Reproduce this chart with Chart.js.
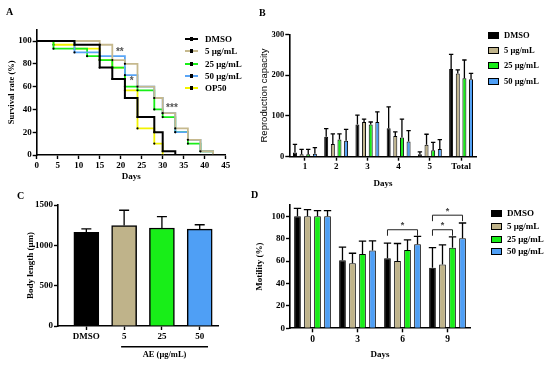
<!DOCTYPE html>
<html>
<head>
<meta charset="utf-8">
<script src="https://cdn.jsdelivr.net/npm/chart.js@4.4.1/dist/chart.umd.min.js"></script>
<style>
body { margin: 0; width: 550px; height: 365px; background: #fff; position: relative; overflow: hidden; font-family: 'Liberation Serif', serif; }
canvas { position: absolute; left: 0; top: 0; }
.panel { position: absolute; font-weight: bold; font-size: 10px; line-height: 10px; }
.legA, .legBox { position: absolute; font-weight: bold; white-space: nowrap; }
.legA { font-size: 9px; height: 12px; line-height: 12px; padding-left: 20px; }
.legA .ln { position: absolute; left: 0; top: 5px; width: 13px; height: 2px; }
.legA .ln i { position: absolute; left: 5px; top: -1px; width: 3px; height: 4px; background: #000; }
.legBox .sq { position: absolute; left: 0; top: 3px; width: 9px; height: 5px; border: 1px solid #000; }
</style>
</head>
<body>
<canvas id="chartA" width="550" height="365"></canvas>
<canvas id="chartB" width="550" height="365"></canvas>
<canvas id="chartC" width="550" height="365"></canvas>
<canvas id="chartD" width="550" height="365"></canvas>

<div class="panel" style="left:6px;top:7px">A</div>
<div class="panel" style="left:259px;top:8px">B</div>
<div class="panel" style="left:17px;top:191px">C</div>
<div class="panel" style="left:251px;top:190px">D</div>
<div id="legends"></div>

<script>
const groups = ['DMSO', '5 μg/mL', '25 μg/mL', '50 μg/mL'];
const groupColors = ['#000000', '#bfb38a', '#18ee18', '#4f9ff5'];

// A - survival curves (day of each step, survival % after the step)
const survNames = ['DMSO', '5 μg/mL', '25 μg/mL', '50 μg/mL', 'OP50'];
const survColors = ['#000000', '#c6b98e', '#18ee18', '#5aa5f5', '#f2f200'];
const dmsoDays = [0, 9, 15, 18, 21, 24, 28, 30, 33];
const dmsoSurv = [100, 96.7, 76.7, 66.7, 50, 33.3, 20, 3.3, 0];
const ae5Days = [0, 15, 18, 21, 24, 28, 30, 33, 36, 39, 42];
const ae5Surv = [100, 96.7, 83.3, 80, 60, 50, 36.7, 23.3, 13.3, 3.3, 0];
const ae25Days = [0, 4, 12, 15, 18, 21, 24, 28, 30, 33, 36, 39, 42];
const ae25Surv = [100, 93.3, 86.7, 83.3, 76.7, 60, 56.7, 40, 33.3, 20, 10, 3.3, 0];
const ae50Days = [0, 9, 15, 21, 24, 28, 30, 33, 36, 39, 42];
const ae50Surv = [100, 90, 86.7, 70, 60, 50, 36.7, 20, 13.3, 3.3, 0];
const op50Days = [0, 4, 9, 15, 18, 21, 24, 28, 30];
const op50Surv = [100, 96.7, 93.3, 83.3, 76.7, 56.7, 23.3, 10, 0];
const survTicks = [0, 20, 40, 60, 80, 100];
const survStars = [
    { text: '**', day: 19.8, pct: 90.4 },
    { text: '*', day: 22.6, pct: 64.9 },
    { text: '***', day: 32.2, pct: 41.2 }
];

// B - reproduction capacity
const reproLabels = ['1', '2', '3', '4', '5', 'Total'];
const reproDMSO = [10, 49, 79, 70, 6, 215];
const reproDMSOsd = [20, 20, 23, 52, 6, 36];
const repro5 = [6, 31, 85, 51, 29, 204];
const repro5sd = [12, 25, 7, 10, 26, 9];
const repro25 = [6, 42, 79, 47, 16, 192];
const repro25sd = [12, 14, 6, 45, 19, 45];
const repro50 = [7, 39, 85, 37, 19, 190];
const repro50sd = [15, 28, 25, 27, 23, 14];

// C - body length
const bodyLabels = ['DMSO', '5', '25', '50'];
const bodyLen = [1160, 1245, 1215, 1200];
const bodyLenSd = [45, 190, 140, 55];

// D - motility
const motDays = ['0', '3', '6', '9'];
const motDMSO = [100, 60.7, 62.5, 54];
const motDMSOsd = [7, 11.7, 13.5, 18];
const mot5 = [100, 58, 60, 57];
const mot5sd = [6, 9, 15.7, 17.5];
const mot25 = [100, 66.4, 70, 72];
const mot25sd = [5, 11.4, 9, 9.7];
const mot50 = [100, 69.4, 75, 80.5];
const mot50sd = [5, 8.6, 7, 13.5];
const motTicks = [0, 20, 40, 60, 80, 100];
const motSig = [
    { day: 2, from: 0, to: 3, level: 88 },
    { day: 3, from: 0, to: 2, level: 88 },
    { day: 3, from: 0, to: 3, level: 101 }
];

const serif = "'Liberation Serif', serif";

function axis(extra) {
    const base = {
        border: { color: '#000', width: 1.6 },
        grid: { display: true, drawOnChartArea: false, drawTicks: true, tickLength: 4, tickWidth: 1.4, tickColor: '#000' },
        ticks: { color: '#000', padding: 1, font: { family: serif, weight: 'bold', size: 9 } },
        title: { display: false }
    };
    return Object.assign(base, extra);
}

function axisTitle(text, size, family, weight) {
    return { display: true, text: text, color: '#000', padding: 0,
        font: { family: family || serif, weight: weight || 'bold', size: size || 9 } };
}

const errorBars = {
    id: 'errorBars',
    afterDatasetsDraw(chart) {
        const ctx = chart.ctx;
        const y = chart.scales.y;
        chart.data.datasets.forEach((ds, i) => {
            if (!ds.errors) return;
            const meta = chart.getDatasetMeta(i);
            meta.data.forEach((bar, j) => {
                const d = ds.data[j];
                const v = typeof d === 'object' ? d.y : d;
                const top = y.getPixelForValue(v + ds.errors[j]);
                const cap = Math.min(bar.width * 0.55, 5);
                ctx.save();
                ctx.strokeStyle = '#000';
                ctx.lineWidth = 1.3;
                ctx.beginPath();
                ctx.moveTo(bar.x, bar.y);
                ctx.lineTo(bar.x, top);
                ctx.moveTo(bar.x - cap, top);
                ctx.lineTo(bar.x + cap, top);
                ctx.stroke();
                ctx.restore();
            });
        });
    }
};

const common = { responsive: false, animation: false, devicePixelRatio: 1,
    plugins: { legend: { display: false }, tooltip: { enabled: false } } };

// ---------- A ----------
const survDays = [dmsoDays, ae5Days, ae25Days, ae50Days, op50Days];
const survVals = [dmsoSurv, ae5Surv, ae25Surv, ae50Surv, op50Surv];
const survOrder = [0, 1, 3, 2, 4];

new Chart(document.getElementById('chartA'), {
    type: 'line',
    data: {
        datasets: survNames.map((name, i) => ({
            label: name,
            data: survDays[i].map((d, k) => ({ x: d, y: survVals[i][k] })),
            stepped: true,
            borderColor: survColors[i],
            borderWidth: i === 0 ? 2 : 1.8,
            pointRadius: 1.1,
            pointBackgroundColor: '#000',
            pointBorderWidth: 0,
            order: survOrder[i]
        }))
    },
    options: Object.assign({}, common, {
        layout: { padding: { top: 29.6, right: 324.3, left: 6.7, bottom: 183 } },
        scales: {
            x: axis({ type: 'linear', min: 0, max: 45,
                ticks: { stepSize: 5, color: '#000', padding: 1, maxRotation: 0, font: { family: serif, weight: 'bold', size: 9 } },
                title: axisTitle('Days', 9),
                afterFit: s => { s.height = 27; } }),
            y: axis({ min: 0, max: 110,
                afterBuildTicks: s => { s.ticks = survTicks.map(v => ({ value: v })); },
                title: axisTitle('Survival rate (%)', 8.5),
                afterFit: s => { s.width = 30; } })
        }
    }),
    plugins: [{
        id: 'stars',
        afterDatasetsDraw(chart) {
            const ctx = chart.ctx;
            ctx.save();
            ctx.fillStyle = '#555';
            ctx.font = "bold 10px 'Liberation Sans', sans-serif";
            ctx.textAlign = 'center';
            ctx.textBaseline = 'middle';
            survStars.forEach(s => {
                ctx.fillText(s.text, chart.scales.x.getPixelForValue(s.day), chart.scales.y.getPixelForValue(s.pct));
            });
            ctx.restore();
        }
    }]
});

// ---------- B ----------
const reproMeans = [reproDMSO, repro5, repro25, repro50];
const reproSds = [reproDMSOsd, repro5sd, repro25sd, repro50sd];

new Chart(document.getElementById('chartB'), {
    type: 'bar',
    data: {
        labels: reproLabels,
        datasets: groups.map((g, i) => ({
            label: g, data: reproMeans[i], errors: reproSds[i],
            backgroundColor: groupColors[i], borderColor: '#000', borderWidth: 1,
            categoryPercentage: 0.85, barPercentage: 0.6
        }))
    },
    options: Object.assign({}, common, {
        layout: { padding: { top: 34.3, right: 73.3, left: 259, bottom: 176 } },
        scales: {
            x: axis({ grid: { offset: false, drawOnChartArea: false, tickLength: 4, tickWidth: 1.4, tickColor: '#000' },
                title: axisTitle('Days', 9),
                afterFit: s => { s.height = 32.3; } }),
            y: axis({ min: 0, max: 300, ticks: { stepSize: 100, color: '#000', padding: 1, font: { family: serif, weight: 'bold', size: 8.5 } },
                title: axisTitle('Reproduction capacity', 9.5, "'Liberation Sans', sans-serif", 'normal'),
                afterFit: s => { s.width = 30.3; } })
        }
    }),
    plugins: [errorBars]
});

// ---------- C ----------
new Chart(document.getElementById('chartC'), {
    type: 'bar',
    data: {
        datasets: [{
            data: bodyLen.map((v, i) => ({ x: i, y: v })), errors: bodyLenSd,
            backgroundColor: groupColors, borderColor: '#000', borderWidth: 1.5,
            barThickness: 25
        }]
    },
    options: Object.assign({}, common, {
        layout: { padding: { top: 205, right: 331.4, left: 25, bottom: 19 } },
        scales: {
            x: axis({ type: 'linear', min: -0.75, max: 3.5, offset: false,
                grid: { offset: false, drawOnChartArea: false, tickLength: 4, tickWidth: 1.4, tickColor: '#000' },
                afterBuildTicks: s => { s.ticks = bodyLabels.map((l, i) => ({ value: i })); },
                ticks: { color: '#000', padding: 1, maxRotation: 0, autoSkip: false, font: { family: serif, weight: 'bold', size: 9 },
                    callback: v => bodyLabels[v] },
                afterFit: s => { s.height = 20; } }),
            y: axis({ min: 0, max: 1500,
                ticks: { stepSize: 500, color: '#000', padding: 1, font: { family: serif, weight: 'bold', size: 9 }, callback: v => String(v) },
                title: axisTitle('Body length (μm)', 9),
                afterFit: s => { s.width = 33; } })
        }
    }),
    plugins: [errorBars, {
        id: 'aeBracket',
        afterDraw(chart) {
            const ctx = chart.ctx;
            const x = chart.scales.x;
            const x0 = x.getPixelForValue(0.92), x1 = x.getPixelForValue(3.22);
            ctx.save();
            ctx.strokeStyle = '#000';
            ctx.lineWidth = 1.6;
            ctx.beginPath();
            ctx.moveTo(x0, 346.7);
            ctx.lineTo(x1, 346.7);
            ctx.stroke();
            ctx.fillStyle = '#000';
            ctx.font = 'bold 8.5px ' + serif;
            ctx.textAlign = 'center';
            ctx.textBaseline = 'middle';
            ctx.fillText('AE (μg/mL)', (x0 + x1) / 2, 355);
            ctx.restore();
        }
    }]
});

// ---------- D ----------
const motMeans = [motDMSO, mot5, mot25, mot50];
const motSds = [motDMSOsd, mot5sd, mot25sd, mot50sd];

new Chart(document.getElementById('chartD'), {
    type: 'bar',
    data: {
        labels: motDays,
        datasets: groups.map((g, i) => ({
            label: g, data: motMeans[i], errors: motSds[i],
            backgroundColor: groupColors[i], borderColor: '#000', borderWidth: 1,
            categoryPercentage: 0.89, barPercentage: 0.67
        }))
    },
    options: Object.assign({}, common, {
        layout: { padding: { top: 205.1, right: 80, left: 254, bottom: 5 } },
        scales: {
            x: axis({ grid: { offset: false, drawOnChartArea: false, tickLength: 4, tickWidth: 1.4, tickColor: '#000' },
                ticks: { color: '#000', padding: 2, font: { family: serif, weight: 'bold', size: 9.5 } },
                title: axisTitle('Days', 9),
                afterFit: s => { s.height = 31.7; } }),
            y: axis({ min: 0, max: 110,
                afterBuildTicks: s => { s.ticks = motTicks.map(v => ({ value: v })); },
                ticks: { color: '#000', padding: 1, font: { family: serif, weight: 'bold', size: 9 } },
                title: axisTitle('Motility (%)', 9),
                afterFit: s => { s.width = 36; } })
        }
    }),
    plugins: [errorBars, {
        id: 'sigBrackets',
        afterDraw(chart) {
            const ctx = chart.ctx;
            const y = chart.scales.y;
            ctx.save();
            ctx.strokeStyle = '#222';
            ctx.lineWidth = 1;
            ctx.fillStyle = '#444';
            ctx.font = "bold 9px 'Liberation Sans', sans-serif";
            ctx.textAlign = 'center';
            ctx.textBaseline = 'middle';
            motSig.forEach(s => {
                const a = chart.getDatasetMeta(s.from).data[s.day].x;
                const b = chart.getDatasetMeta(s.to).data[s.day].x;
                const top = y.getPixelForValue(s.level);
                ctx.beginPath();
                ctx.moveTo(a, top + 6);
                ctx.lineTo(a, top);
                ctx.lineTo(b, top);
                ctx.lineTo(b, top + 6);
                ctx.stroke();
                ctx.fillText('*', (a + b) / 2, top - 4);
            });
            ctx.restore();
        }
    }]
});

// ---------- legends ----------
const legends = document.getElementById('legends');
survNames.forEach((name, i) => {
    const el = document.createElement('div');
    el.className = 'legA';
    el.style.left = '185px';
    el.style.top = (39.3 + i * 12.1 - 6) + 'px';
    el.innerHTML = '<span class="ln" style="background:' + survColors[i] + '"><i></i></span>' + name;
    legends.appendChild(el);
});

function boxLegend(left, top0, step, size) {
    groups.forEach((g, i) => {
        const el = document.createElement('div');
        el.className = 'legBox';
        el.style.left = left + 'px';
        el.style.top = (top0 + i * step - 6) + 'px';
        el.style.fontSize = size + 'px';
        el.style.lineHeight = '12px';
        el.style.paddingLeft = '16px';
        el.innerHTML = '<span class="sq" style="background:' + groupColors[i] + '"></span>' + g;
        legends.appendChild(el);
    });
}
boxLegend(488, 35, 15.2, 8.5);
boxLegend(491, 213.3, 12.6, 9);
</script>
</body>
</html>
